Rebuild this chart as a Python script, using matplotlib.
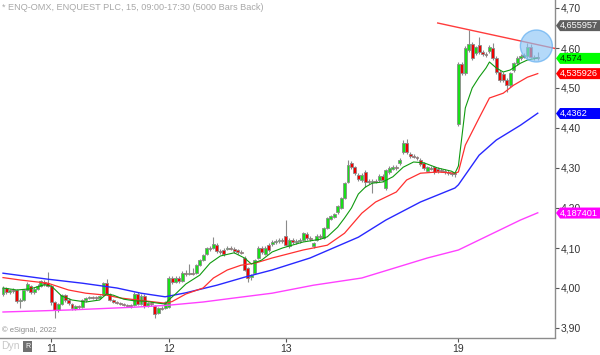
import matplotlib
matplotlib.use("Agg")
import matplotlib.pyplot as plt
from matplotlib.patches import Polygon, Ellipse, Rectangle

plt.rcParams['font.family'] = ['Liberation Sans', 'DejaVu Sans']

# ---------------- data (15-min bars) ----------------
opens = [3.985,4.000,3.990,3.995,3.995,3.967,3.970,3.995,4.005,3.990,
         3.998,4.005,4.015,4.012,4.005,3.965,3.945,3.960,3.982,3.970,
         3.960,3.948,3.955,3.953,3.970,3.975,3.977,3.976,3.974,3.982,
         4.012,3.985,3.970,3.965,3.963,3.960,3.958,3.956,3.958,3.985,
         3.960,3.980,3.955,3.962,3.955,3.938,3.950,3.950,3.952,4.025,
         4.015,4.025,4.017,4.037,4.035,4.037,4.037,4.057,4.070,4.085,
         4.100,4.100,4.107,4.092,4.095,4.098,4.100,4.098,4.095,4.090,
         4.075,4.050,4.027,4.037,4.075,4.100,4.085,4.107,4.110,4.115,
         4.118,4.120,4.130,4.105,4.120,4.115,4.117,4.120,4.135,4.125,
         4.105,4.120,4.130,4.125,4.150,4.172,4.178,4.190,4.200,4.225,
         4.265,4.312,4.302,4.283,4.270,4.290,4.268,4.265,4.268,4.270,
         4.280,4.250,4.290,4.298,4.303,4.312,4.340,4.362,4.335,4.330,
         4.326,4.320,4.312,4.293,4.300,4.302,4.298,4.295,4.293,4.290,
         4.287,4.286,4.410,4.560,4.537,4.595,4.610,4.587,4.607,4.590,
         4.585,4.592,4.600,4.575,4.540,4.535,4.520,4.507,4.545,4.562,
         4.575,4.578,4.580,4.602,4.578,4.576]
highs = [4.005,4.003,3.998,4.000,3.998,3.975,3.998,4.015,4.008,4.002,
         4.010,4.020,4.020,4.040,4.008,3.968,3.962,3.985,3.986,3.974,
         3.963,3.958,3.958,3.973,3.978,3.980,3.981,3.979,3.983,4.014,
         4.022,3.988,3.973,3.968,3.966,3.963,3.961,3.960,3.990,3.990,
         3.984,3.984,3.966,3.966,3.958,3.953,3.954,3.968,4.030,4.030,
         4.030,4.030,4.042,4.045,4.060,4.050,4.060,4.073,4.086,4.103,
         4.105,4.127,4.112,4.097,4.099,4.104,4.104,4.102,4.098,4.094,
         4.080,4.053,4.036,4.073,4.104,4.105,4.104,4.112,4.120,4.122,
         4.124,4.125,4.170,4.124,4.124,4.122,4.124,4.140,4.139,4.129,
         4.116,4.134,4.134,4.153,4.178,4.183,4.188,4.208,4.228,4.265,
         4.320,4.318,4.306,4.287,4.287,4.294,4.272,4.272,4.272,4.284,
         4.284,4.298,4.304,4.307,4.307,4.324,4.370,4.372,4.339,4.334,
         4.330,4.324,4.316,4.306,4.304,4.306,4.302,4.299,4.297,4.294,
         4.291,4.290,4.565,4.565,4.605,4.645,4.615,4.606,4.627,4.594,
         4.590,4.607,4.612,4.580,4.545,4.540,4.524,4.541,4.566,4.579,
         4.584,4.587,4.612,4.610,4.583,4.590]
lows = [3.980,3.985,3.985,3.988,3.962,3.950,3.968,3.992,3.985,3.985,
        3.995,4.002,4.005,4.002,3.958,3.925,3.940,3.957,3.965,3.958,
        3.945,3.945,3.948,3.950,3.966,3.972,3.972,3.970,3.972,3.980,
        3.982,3.967,3.962,3.960,3.957,3.955,3.953,3.950,3.955,3.957,
        3.957,3.950,3.952,3.955,3.925,3.935,3.944,3.947,3.950,4.010,
        4.012,4.012,4.014,4.030,4.032,4.032,4.034,4.054,4.067,4.082,
        4.092,4.097,4.088,4.086,4.081,4.094,4.094,4.088,4.086,4.084,
        4.042,4.015,4.020,4.034,4.072,4.086,4.082,4.091,4.106,4.110,
        4.112,4.113,4.104,4.100,4.110,4.111,4.113,4.118,4.120,4.117,
        4.100,4.117,4.123,4.122,4.147,4.169,4.175,4.186,4.197,4.222,
        4.262,4.298,4.283,4.268,4.266,4.252,4.261,4.237,4.262,4.266,
        4.265,4.246,4.286,4.294,4.295,4.308,4.336,4.336,4.326,4.324,
        4.320,4.306,4.296,4.289,4.294,4.286,4.288,4.289,4.285,4.283,
        4.280,4.278,4.405,4.532,4.533,4.591,4.570,4.583,4.586,4.580,
        4.577,4.588,4.571,4.536,4.516,4.516,4.490,4.503,4.541,4.558,
        4.571,4.574,4.576,4.574,4.570,4.570]
closes = [4.000,3.990,3.995,3.992,3.967,3.970,3.995,4.010,3.990,3.998,
          4.005,4.017,4.010,4.005,3.965,3.945,3.960,3.982,3.970,3.962,
          3.950,3.955,3.952,3.970,3.975,3.977,3.976,3.974,3.980,4.012,
          3.985,3.970,3.965,3.963,3.960,3.958,3.956,3.955,3.985,3.960,
          3.980,3.955,3.962,3.960,3.935,3.950,3.948,3.965,4.025,4.015,
          4.025,4.017,4.037,4.035,4.037,4.036,4.057,4.070,4.082,4.100,
          4.097,4.110,4.092,4.090,4.085,4.100,4.098,4.092,4.090,4.088,
          4.045,4.025,4.032,4.070,4.100,4.090,4.100,4.095,4.115,4.117,
          4.120,4.118,4.107,4.120,4.115,4.118,4.120,4.137,4.125,4.122,
          4.112,4.130,4.127,4.150,4.175,4.180,4.185,4.205,4.225,4.262,
          4.307,4.302,4.287,4.272,4.283,4.265,4.265,4.268,4.266,4.280,
          4.270,4.295,4.300,4.303,4.300,4.320,4.362,4.340,4.330,4.328,
          4.325,4.310,4.300,4.302,4.298,4.290,4.292,4.293,4.290,4.288,
          4.285,4.284,4.560,4.537,4.600,4.610,4.575,4.602,4.590,4.585,
          4.582,4.602,4.575,4.540,4.520,4.520,4.507,4.537,4.562,4.575,
          4.580,4.583,4.602,4.578,4.576,4.574]

# moving averages, sampled at bar indices
ma_green_idx = [0,4,8,12,14,17,20,24,28,30,32,35,38,41,45,47,48,50,53,57,60,63,67,70,72,75,78,81,
                87,92,94,97,99,101,103,105,107,110,113,116,119,122,126,130,131,132,134,136,138,
                140,141,143,145,147,150,152,155]
ma_green = [4.000,3.995,3.998,4.008,4.005,3.980,3.970,3.965,3.970,3.985,3.982,3.972,3.968,3.967,
            3.962,3.960,3.970,3.985,4.010,4.032,4.062,4.080,4.088,4.075,4.060,4.070,4.090,4.100,
            4.115,4.122,4.128,4.152,4.175,4.200,4.235,4.252,4.262,4.265,4.278,4.302,4.315,4.313,
            4.300,4.292,4.287,4.305,4.450,4.500,4.527,4.550,4.565,4.550,4.540,4.545,4.562,4.570,4.575]
ma_red_idx = [0,5,13,19,24,30,34,39,47,49,53,58,61,65,69,73,78,87,94,99,104,108,114,117,121,
              126,131,132,134,138,141,145,148,152,155]
ma_red = [4.026,4.020,4.012,3.995,3.987,3.982,3.975,3.970,3.962,3.966,3.985,4.000,4.025,4.045,
          4.057,4.062,4.075,4.095,4.107,4.137,4.187,4.215,4.240,4.270,4.287,4.290,4.287,4.290,
          4.357,4.425,4.475,4.487,4.507,4.527,4.536]
ma_blue_idx = [0,13,23,33,40,47,53,62,70,78,89,103,111,121,131,132,138,143,150,155]
ma_blue = [4.037,4.022,4.012,4.000,3.987,3.978,3.988,4.007,4.027,4.045,4.075,4.127,4.170,
           4.215,4.250,4.258,4.332,4.370,4.407,4.437]
ma_mag_idx = [0,19,38,48,58,67,78,90,104,123,132,150,155]
ma_mag = [3.940,3.945,3.952,3.957,3.965,3.975,3.987,4.007,4.025,4.075,4.095,4.170,4.188]

trend_idx = [126, 160]
trend_val = [4.6625, 4.5989]

day_tick_idx = [14, 48, 82, 132]
day_labels = ['11', '12', '13', '19']
y_ticks = [3.90, 4.00, 4.10, 4.20, 4.30, 4.40, 4.50, 4.60, 4.70]

price_tags = [(4.655957, '4,655957', '#5f5f5f', 'white'),
              (4.574, '4,574', '#00ff00', '#003300'),
              (4.535926, '4,535926', '#ff0000', 'white'),
              (4.4362, '4,4362', '#0000ff', 'white'),
              (4.187401, '4,187401', '#ff00ff', 'white')]

title = '* ENQ-OMX, ENQUEST PLC, 15, 09:00-17:30 (5000 Bars Back)'

# ---------------- figure ----------------
W, H = 600, 355
fig = plt.figure(figsize=(W / 100, H / 100), dpi=100)
bottom_px, plot_h_px, plot_w_px = 17.5, 337.5, 555
ax = fig.add_axes([0, bottom_px / H, plot_w_px / W, plot_h_px / H])
ymin, ymax = 4.72 - plot_h_px / 400, 4.72
ax.set_xlim(-0.87, 160)
ax.set_ylim(ymin, ymax)

idx = list(range(len(closes)))
ax.vlines(idx, lows, highs, color='#8a8a8a', lw=0.8, zorder=2)
body_bottom = [min(o, c) for o, c in zip(opens, closes)]
body_h = [max(abs(c - o), 0.0025) for o, c in zip(opens, closes)]
cols = ['#18e018' if c >= o else '#f00000' for o, c in zip(opens, closes)]
ax.bar(idx, body_h, bottom=body_bottom, width=0.86, color=cols,
       edgecolor='#8a8a8a', linewidth=0.6, zorder=3)

ax.plot(ma_mag_idx, ma_mag, color='#ff40ff', lw=1.0, zorder=4)
ax.plot(ma_blue_idx, ma_blue, color='#2828ff', lw=1.0, zorder=4)
ax.plot(ma_red_idx, ma_red, color='#ff3030', lw=0.9, zorder=4)
ax.plot(ma_green_idx, ma_green, color='#109a10', lw=0.8, zorder=4)
ax.plot(trend_idx, trend_val, color='#ff3c3c', lw=1.0, zorder=5)

ax.add_patch(Ellipse((154.6, 4.605), 32 / 3.45, 32 / 400, facecolor='#8cc6f6',
                     edgecolor='#5aaaf0', lw=1.0, alpha=0.65, zorder=6))

for s in ['left', 'top']:
    ax.spines[s].set_visible(False)
for s in ['right', 'bottom']:
    ax.spines[s].set_color('#8c8c8c')
    ax.spines[s].set_linewidth(1.0)

ax.yaxis.tick_right()
ax.set_yticks(y_ticks)
ax.set_yticklabels([f'{v:.2f}'.replace('.', ',') for v in y_ticks])
ax.tick_params(axis='y', direction='out', length=3, width=0.8, color='#555555',
               labelsize=7.5, labelcolor='#333333', pad=1)
ax.set_xticks(day_tick_idx)
ax.set_xticklabels(day_labels)
ax.tick_params(axis='x', direction='out', length=3, width=0.8, color='#555555',
               labelsize=7.5, labelcolor='#333333', pad=2)

# price tags on right axis
for val, txt, bg, fg in price_tags:
    yp = bottom_px + (val - ymin) * 400
    hh = 5.5
    pts = [(556, yp), (560, yp + hh), (600, yp + hh), (600, yp - hh), (560, yp - hh)]
    pts = [(x / W, y / H) for x, y in pts]
    fig.patches.append(Polygon(pts, closed=True, transform=fig.transFigure,
                               facecolor=bg, edgecolor='none', zorder=10))
    fig.text(559.5 / W, yp / H, txt, color=fg, fontsize=6.6, va='center', ha='left', zorder=11)

fig.text(2 / W, 1 - 7 / H, title, color='#a8a8a8', fontsize=6.6, va='center', ha='left')
fig.text(2 / W, 1 - 330 / H, '\u00a9 eSignal, 2022', color='#8a8a8a', fontsize=5.5,
         va='center', ha='left')
fig.text(1 / W, 1 - 346 / H, 'Dyn', color='#c8c8c8', fontsize=7.5, va='center', ha='left')
fig.patches.append(Rectangle((23 / W, 1 - 352 / H), 9 / W, 11 / H, transform=fig.transFigure,
                             facecolor='#707070', edgecolor='none'))
fig.text(27.5 / W, 1 - 346.5 / H, 'R', color='white', fontsize=5, va='center', ha='center')

fig.savefig('out.png', dpi=100)
